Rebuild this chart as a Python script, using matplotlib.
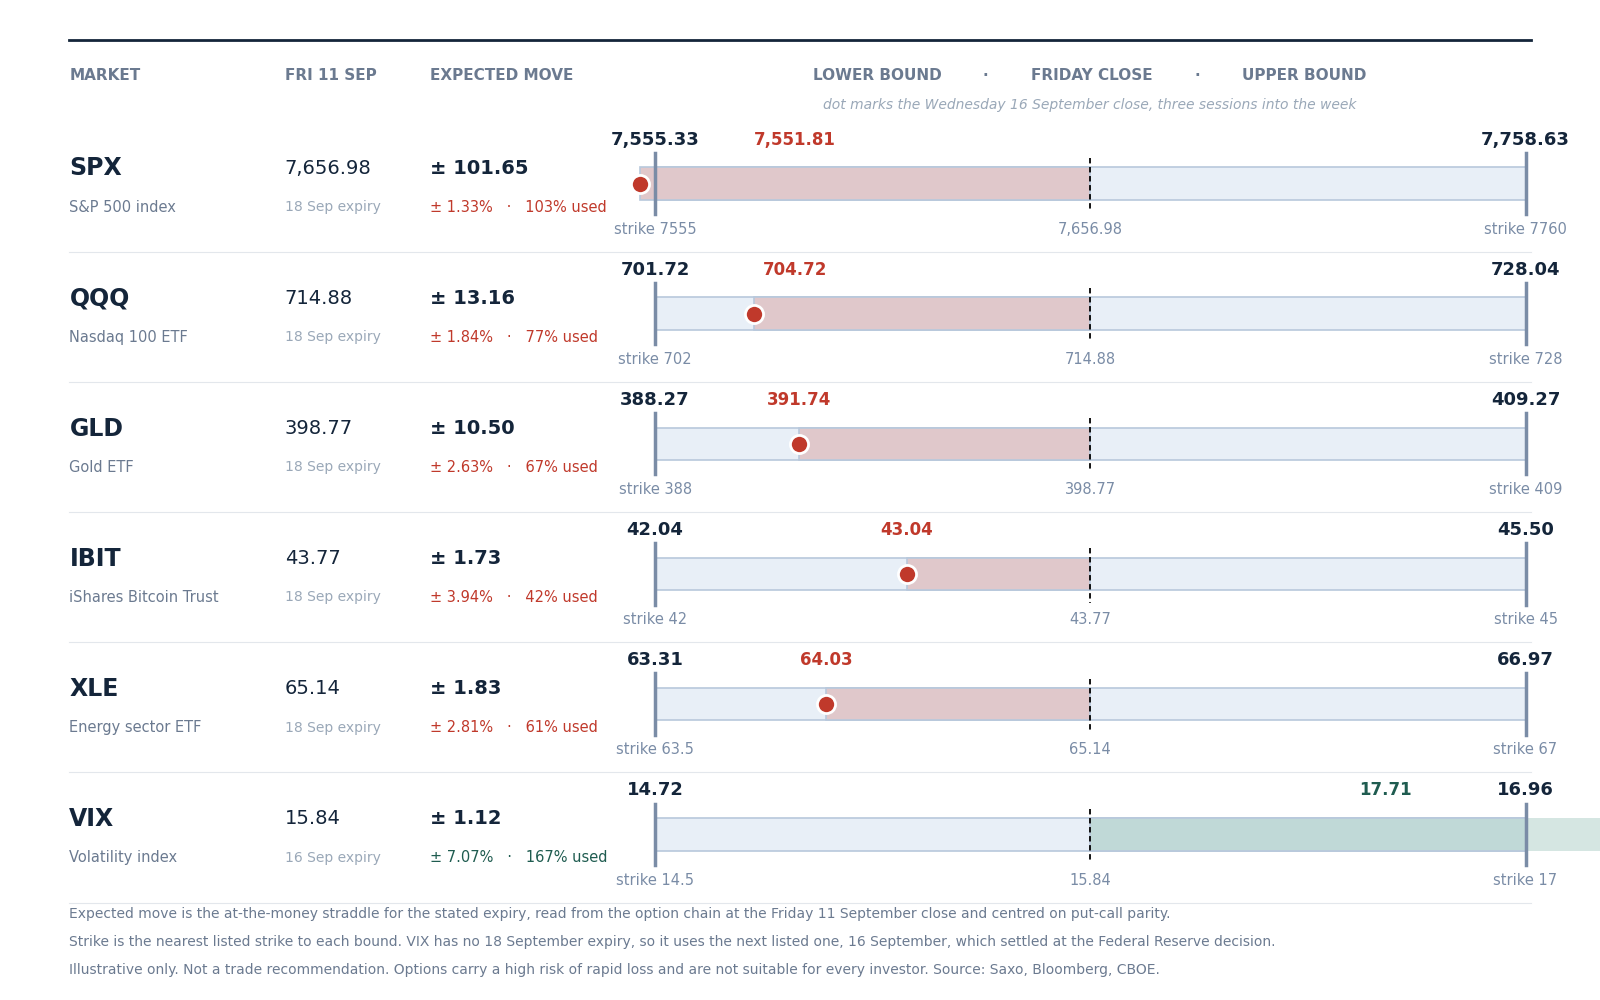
import matplotlib
matplotlib.use("Agg")
import matplotlib.pyplot as plt
from matplotlib.patches import Rectangle

markets = ["SPX", "QQQ", "GLD", "IBIT", "XLE", "VIX"]
descs = ["S&P 500 index", "Nasdaq 100 ETF", "Gold ETF", "iShares Bitcoin Trust", "Energy sector ETF", "Volatility index"]
closes = [7656.98, 714.88, 398.77, 43.77, 65.14, 15.84]
close_lbl = ["7,656.98", "714.88", "398.77", "43.77", "65.14", "15.84"]
moves = [101.65, 13.16, 10.50, 1.73, 1.83, 1.12]
pcts = ["1.33", "1.84", "2.63", "3.94", "2.81", "7.07"]
used = [103, 77, 67, 42, 61, 167]
expiries = ["18 Sep expiry"] * 5 + ["16 Sep expiry"]
wed = [7551.81, 704.72, 391.74, 43.04, 64.03, 17.71]
strike_lo = ["7555", "702", "388", "42", "63.5", "14.5"]
strike_hi = ["7760", "728", "409", "45", "67", "17"]

W, H = 1568, 980
DARK = "#14253a"; GRAY = "#6b7a90"; LGRAY = "#9aa8b8"; SGRAY = "#7a8ca6"
RED = "#c0392b"; TEAL = "#1f5c50"

fig = plt.figure(figsize=(16, 10), dpi=100)
base = fig.add_axes([0, 0, 1, 1]); base.set_xlim(0, W); base.set_ylim(H, 0); base.axis("off")

base.plot([68, 1500], [39, 39], color=DARK, lw=2)
for x, t in [(68, "MARKET"), (279, "FRI 11 SEP"), (421, "EXPECTED MOVE")]:
    base.text(x, 74, t, color=GRAY, fontsize=11, fontweight="bold", va="center")
for x, t in [(860, "LOWER BOUND"), (966, "·"), (1070, "FRIDAY CLOSE"), (1173, "·"), (1278, "UPPER BOUND")]:
    base.text(x, 74, t, color=GRAY, fontsize=11, fontweight="bold", va="center", ha="center")
base.text(1068, 103, "dot marks the Wednesday 16 September close, three sessions into the week",
          color=LGRAY, fontsize=10, style="italic", ha="center", va="center")

x0, x1 = 642, 1495
pitch = 127.5
for i, m in enumerate(markets):
    c = 180 + i * pitch
    up = used[i] > 100 and m == "VIX"
    col = TEAL if m == "VIX" else RED
    base.text(68, c - 15, m, color=DARK, fontsize=17, fontweight="bold", va="center")
    base.text(68, c + 23, descs[i], color=GRAY, fontsize=10.5, va="center")
    base.text(279, c - 15, close_lbl[i], color=DARK, fontsize=14, va="center")
    base.text(279, c + 23, expiries[i], color=LGRAY, fontsize=10, va="center")
    base.text(421, c - 15, f"± {moves[i]:.2f}", color=DARK, fontsize=14, fontweight="bold", va="center")
    base.text(421, c + 23, f"± {pcts[i]}%   ·   {used[i]}% used", color=col, fontsize=10.5, va="center")
    if i < len(markets) - 1:
        base.plot([68, 1500], [c + 67, c + 67], color="#e3e7ec", lw=0.8)
    else:
        base.plot([68, 1500], [c + 67, c + 67], color="#e3e7ec", lw=0.8)

    lo, hi = closes[i] - moves[i], closes[i] + moves[i]
    ax = fig.add_axes([x0 / W, 1 - (c + 30) / H, (x1 - x0) / W, 60 / H])
    ax.set_xlim(lo, hi); ax.set_ylim(30, -30); ax.axis("off")
    ax.add_patch(Rectangle((lo, -16), hi - lo, 32, facecolor="#e8eff7", edgecolor="#b8c8dc", lw=1.2, zorder=1))
    if up:
        ax.add_patch(Rectangle((closes[i], -16), hi - closes[i], 32, facecolor="#c0d9d7", edgecolor="#b8c8dc", lw=1.2, zorder=2))
        ax.add_patch(Rectangle((hi, -16), wed[i] - hi, 32, facecolor="#d5e6e2", edgecolor="none", zorder=2, clip_on=False))
    else:
        ax.add_patch(Rectangle((wed[i], -16), closes[i] - wed[i], 32, facecolor="#e0c8cb", edgecolor="#b8c8dc", lw=1.2, zorder=2, clip_on=False))
    for xv in (lo, hi):
        ax.plot([xv, xv], [-30, 30], color=SGRAY, lw=2.5, zorder=4, clip_on=False)
    ax.plot([closes[i]] * 2, [-25, 28], color="black", lw=1.3, ls=(0, (3, 2)), zorder=4)
    ax.scatter([wed[i]], [0], s=170, color=col, edgecolor="white", linewidth=2, zorder=6, clip_on=False)
    # labels
    ax.text(lo, -43, f"{lo:,.2f}", color=DARK, fontsize=13, fontweight="bold", ha="center", va="center")
    ax.text(hi, -43, f"{hi:,.2f}", color=DARK, fontsize=13, fontweight="bold", ha="center", va="center")
    span = hi - lo
    px = (wed[i] - lo) / span * (x1 - x0)
    px = min(max(px, 137), (x1 - x0) - 137)
    ax.text(lo + px / (x1 - x0) * span, -43, f"{wed[i]:,.2f}", color=col, fontsize=12, fontweight="bold", ha="center", va="center")
    ax.text(lo, 45, f"strike {strike_lo[i]}", color=SGRAY, fontsize=10.5, ha="center", va="center")
    ax.text(closes[i], 45, close_lbl[i], color=SGRAY, fontsize=10.5, ha="center", va="center")
    ax.text(hi, 45, f"strike {strike_hi[i]}", color=SGRAY, fontsize=10.5, ha="center", va="center")

notes = [
    "Expected move is the at-the-money straddle for the stated expiry, read from the option chain at the Friday 11 September close and centred on put-call parity.",
    "Strike is the nearest listed strike to each bound. VIX has no 18 September expiry, so it uses the next listed one, 16 September, which settled at the Federal Reserve decision.",
    "Illustrative only. Not a trade recommendation. Options carry a high risk of rapid loss and are not suitable for every investor. Source: Saxo, Bloomberg, CBOE.",
]
for k, n in enumerate(notes):
    base.text(68, 896 + k * 27.5, n, color=GRAY, fontsize=10, va="center")

fig.savefig("out.png", dpi=100)
